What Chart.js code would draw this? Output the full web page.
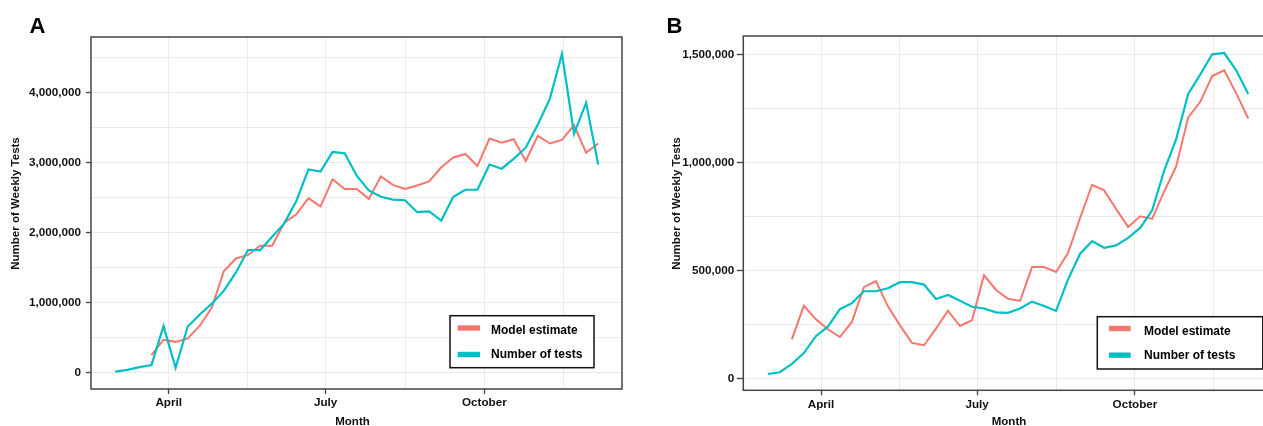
<!DOCTYPE html>
<html>
<head>
<meta charset="utf-8">
<title>Weekly tests: model estimate vs number of tests</title>
<script src="https://cdn.jsdelivr.net/npm/chart.js@4.4.1/dist/chart.umd.min.js"></script>
<style>
  html, body { margin: 0; padding: 0; background: #fff; overflow: hidden; width: 1263px; height: 426px; }
  .panel { position: absolute; top: 0; height: 426px; }
  #wrapA { left: 0; width: 640px; }
  #wrapB { left: 640px; width: 660px; }
  canvas { display: block; }
</style>
</head>
<body>
<div class="panel" id="wrapA"><canvas id="panelA" width="640" height="426"></canvas></div>
<div class="panel" id="wrapB"><canvas id="panelB" width="660" height="426"></canvas></div>
<script>
// Week starting dates (2020)
const weeks = [
  '2020-03-01','2020-03-08','2020-03-15','2020-03-22','2020-03-29',
  '2020-04-05','2020-04-12','2020-04-19','2020-04-26',
  '2020-05-03','2020-05-10','2020-05-17','2020-05-24','2020-05-31',
  '2020-06-07','2020-06-14','2020-06-21','2020-06-28',
  '2020-07-05','2020-07-12','2020-07-19','2020-07-26',
  '2020-08-02','2020-08-09','2020-08-16','2020-08-23','2020-08-30',
  '2020-09-06','2020-09-13','2020-09-20','2020-09-27',
  '2020-10-04','2020-10-11','2020-10-18','2020-10-25',
  '2020-11-01','2020-11-08','2020-11-15','2020-11-22','2020-11-29',
  '2020-12-06'
];

// Month axis: labelled breaks and the unlabelled mid-month grid lines
const monthTickDates  = ['2020-04-01', '2020-07-01', '2020-10-01'];
const monthTickLabels = ['April', 'July', 'October'];
const midGridDates    = ['2020-05-16T12:00', '2020-08-16', '2020-11-16'];

// Panel A
const testsA = [
  15000, 40000, 80000, 110000, 665000, 70000, 655000, 830000, 985000, 1170000,
  1430000, 1750000, 1750000, 1940000, 2130000, 2450000, 2900000, 2870000, 3150000, 3130000,
  2810000, 2600000, 2510000, 2470000, 2460000, 2290000, 2300000, 2170000, 2510000, 2610000,
  2610000, 2970000, 2910000, 3050000, 3210000, 3540000, 3910000, 4550000, 3410000, 3850000,
  2970000
];
const modelA = [
  null, null, null, 250000, 470000, 440000, 490000, 670000, 930000, 1450000,
  1630000, 1680000, 1810000, 1810000, 2140000, 2260000, 2490000, 2370000, 2760000, 2620000,
  2620000, 2480000, 2800000, 2680000, 2620000, 2670000, 2730000, 2930000, 3070000, 3120000,
  2950000, 3340000, 3280000, 3330000, 3020000, 3380000, 3270000, 3320000, 3530000, 3140000,
  3270000
];
const yTicksA = [0, 1000000, 2000000, 3000000, 4000000];
const yGridA  = [0, 500000, 1000000, 1500000, 2000000, 2500000, 3000000, 3500000, 4000000, 4500000];

// Panel B
const testsB = [
  20000, 28000, 67000, 117000, 195000, 239000, 320000, 348000, 403000, 403000,
  417000, 445000, 445000, 434000, 367000, 386000, 359000, 331000, 323000, 305000,
  303000, 323000, 355000, 335000, 312000, 458000, 577000, 635000, 604000, 615000,
  650000, 696000, 778000, 962000, 1107000, 1316000, 1406000, 1500000, 1506000, 1426000,
  1316000
];
const modelB = [
  null, null, 180000, 336000, 273000, 227000, 191000, 261000, 422000, 450000,
  333000, 245000, 164000, 153000, 230000, 313000, 242000, 269000, 477000, 409000,
  368000, 358000, 515000, 515000, 492000, 581000, 742000, 896000, 870000, 784000,
  701000, 750000, 738000, 865000, 981000, 1208000, 1280000, 1399000, 1426000, 1319000,
  1203000
];
const yTicksB = [0, 500000, 1000000, 1500000];
const yGridB  = [0, 250000, 500000, 750000, 1000000, 1250000, 1500000];

const seriesLabels = ['Model estimate', 'Number of tests'];
const RED = '#F8766D';
const CYAN = '#00BFC4';
const GRID = '#EBEBEB';
const AXIS = '#444444';
const INK = '#111111';
const FONT = "'Liberation Sans', Arial, Helvetica, sans-serif";

// day of year (0 = 1 January 2020)
function dayOfYear(s) {
  const d = new Date(s.length > 10 ? s + 'Z' : s + 'T00:00Z');
  return (d.getTime() - Date.UTC(2020, 0, 1)) / 86400000;
}
const weekDays = weeks.map(dayOfYear);
const monthTickDays = monthTickDates.map(dayOfYear);
const midGridDays = midGridDates.map(dayOfYear);
const xGridDays = monthTickDays.concat(midGridDays).sort((a, b) => a - b);

function toPoints(values) {
  const pts = [];
  values.forEach((v, i) => { if (v !== null) pts.push({ x: weekDays[i], y: v }); });
  return pts;
}

// Panel frame, letter, axis titles and the boxed legend
const panelDecor = {
  id: 'panelDecor',
  afterDraw(chart, args, o) {
    const ctx = chart.ctx;
    const a = chart.chartArea;
    ctx.save();

    // frame
    ctx.strokeStyle = AXIS;
    ctx.lineWidth = 1.5;
    ctx.strokeRect(a.left, a.top, a.right - a.left, a.bottom - a.top);

    // panel letter
    ctx.fillStyle = '#000';
    ctx.font = 'bold 22px ' + FONT;
    ctx.textAlign = 'left';
    ctx.textBaseline = 'alphabetic';
    ctx.fillText(o.letter, o.letterX, 32.5);

    // axis titles
    ctx.font = 'bold 11.5px ' + FONT;
    ctx.textAlign = 'center';
    ctx.textBaseline = 'middle';
    ctx.fillStyle = INK;
    ctx.fillText(o.xTitle, o.xTitleX, 421.5);
    ctx.save();
    ctx.translate(o.yTitleX, 203.5);
    ctx.rotate(-Math.PI / 2);
    ctx.fillText(o.yTitle, 0, 0);
    ctx.restore();

    // legend
    const L = o.legend;
    ctx.fillStyle = '#fff';
    ctx.fillRect(L.x, L.y, L.w, L.h);
    ctx.strokeStyle = '#111';
    ctx.lineWidth = 1.5;
    ctx.strokeRect(L.x, L.y, L.w, L.h);
    ctx.font = 'bold 12px ' + FONT;
    ctx.textAlign = 'left';
    ctx.textBaseline = 'middle';
    const colors = [RED, CYAN];
    seriesLabels.forEach((label, i) => {
      ctx.fillStyle = colors[i];
      ctx.fillRect(L.swatchX, L.swatchY[i] - 2.7, L.swatchW, 5.4);
      ctx.fillStyle = '#000';
      ctx.fillText(label, L.textX, L.textY[i]);
    });
    ctx.restore();
  }
};

function buildPanel(canvasId, p) {
  const fmt = v => Number(v).toLocaleString('en-US');
  return new Chart(document.getElementById(canvasId), {
    type: 'line',
    data: {
      datasets: [
        { label: seriesLabels[0], data: toPoints(p.model), borderColor: RED, backgroundColor: RED,
          borderWidth: 2, pointRadius: 0, tension: 0, fill: false, order: 2 },
        { label: seriesLabels[1], data: toPoints(p.tests), borderColor: CYAN, backgroundColor: CYAN,
          borderWidth: 2.2, pointRadius: 0, tension: 0, fill: false, order: 1 }
      ]
    },
    options: {
      responsive: false,
      animation: false,
      devicePixelRatio: 1,
      parsing: true,
      layout: { padding: { top: p.padTop, right: p.padRight, left: 0, bottom: 0 } },
      plugins: {
        legend: { display: false },
        tooltip: { enabled: false },
        panelDecor: p.decor
      },
      scales: {
        x: {
          type: 'linear',
          min: p.xMin,
          max: p.xMax,
          afterBuildTicks: s => { s.ticks = xGridDays.map(v => ({ value: v })); },
          afterFit: s => { s.height = p.xAxisHeight; },
          ticks: {
            autoSkip: false, maxRotation: 0, minRotation: 0, padding: 2,
            color: INK, font: { family: FONT, size: 11.7, weight: 'bold' },
            callback: v => {
              const i = monthTickDays.findIndex(d => Math.abs(d - v) < 0.01);
              return i >= 0 ? monthTickLabels[i] : '';
            }
          },
          grid: {
            color: GRID, lineWidth: 1, drawTicks: true, tickLength: 5, tickWidth: 1.3,
            tickColor: c => (c.tick && monthTickDays.some(d => Math.abs(d - c.tick.value) < 0.01)) ? AXIS : 'rgba(0,0,0,0)'
          },
          border: { display: false }
        },
        y: {
          type: 'linear',
          min: p.yMin,
          max: p.yMax,
          afterBuildTicks: s => { s.ticks = p.yGrid.map(v => ({ value: v })); },
          afterFit: s => { s.width = p.yAxisWidth; },
          ticks: {
            autoSkip: false, padding: p.yLabelPad,
            color: INK, font: { family: FONT, size: 11.7, weight: 'bold' },
            callback: v => p.yTicks.includes(v) ? fmt(v) : ''
          },
          grid: {
            color: GRID, lineWidth: 1, drawTicks: true, tickLength: p.yTickLen, tickWidth: 1.3,
            tickColor: c => (c.tick && p.yTicks.includes(c.tick.value)) ? AXIS : 'rgba(0,0,0,0)'
          },
          border: { display: false }
        }
      }
    },
    plugins: [panelDecor]
  });
}

buildPanel('panelA', {
  tests: testsA, model: modelA, yTicks: yTicksA, yGrid: yGridA,
  yMin: -232500, yMax: 4789000, xMin: 45.95, xMax: 353.8,
  padTop: 37, padRight: 18, yAxisWidth: 91, xAxisHeight: 37,
  yLabelPad: 5, yTickLen: 5,
  decor: {
    letter: 'A', letterX: 29.5, xTitle: 'Month', xTitleX: 352.5,
    yTitle: 'Number of Weekly Tests', yTitleX: 16.3,
    legend: { x: 450, y: 315.7, w: 144, h: 52, swatchX: 457.7, swatchW: 22.3,
              swatchY: [328, 354.5], textX: 491, textY: [331, 355] }
  }
});

buildPanel('panelB', {
  tests: testsB, model: modelB, yTicks: yTicksB, yGrid: yGridB,
  yMin: -55600, yMax: 1584700, xMin: 45.7, xMax: 355.6,
  padTop: 36, padRight: 25, yAxisWidth: 103.3, xAxisHeight: 35.7,
  yLabelPad: 2.5, yTickLen: 6.5,
  decor: {
    letter: 'B', letterX: 26.5, xTitle: 'Month', xTitleX: 369,
    yTitle: 'Number of Weekly Tests', yTitleX: 36.5,
    legend: { x: 457.3, y: 316.7, w: 165.5, h: 52.3, swatchX: 469, swatchW: 21.7,
              swatchY: [328.5, 355.2], textX: 504, textY: [332, 356] }
  }
});
</script>
</body>
</html>
